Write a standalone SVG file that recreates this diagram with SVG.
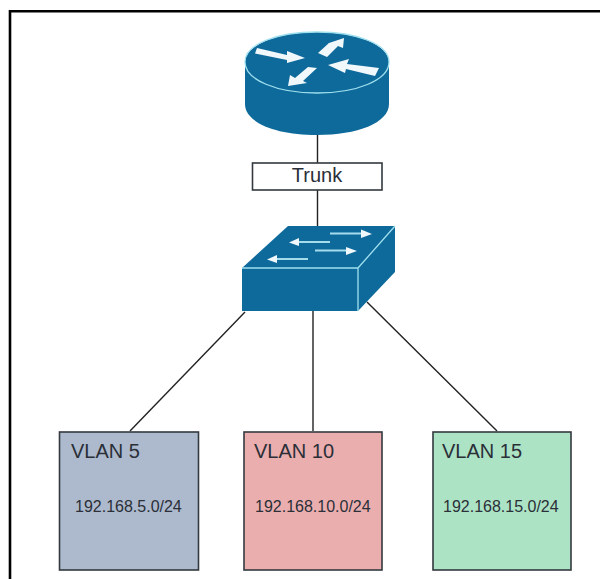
<svg xmlns="http://www.w3.org/2000/svg" width="600" height="579" viewBox="0 0 600 579">
<style>
.f{fill:#0f6a9c}.e{fill:none;stroke:#9fe0ee;stroke-width:1.3}.w{fill:#f1f8fb}
.b{stroke:#a5dcec;stroke-width:2.2;fill:none}
.c{stroke:#222;stroke-width:1.4;fill:none}
.n{stroke:#33393e;stroke-width:1.6}
text{font-family:"Liberation Sans",Arial,sans-serif;fill:#2a2f38}
.t{font-size:20px}.s{font-size:16px}
</style>
<rect x="0" y="0" width="600" height="579" fill="#fff"/>
<path d="M10 579V11.200H600" fill="none" stroke="#000" stroke-width="2.600"/>
<g id="connectors">
<line class="c" x1="317.500" y1="134" x2="317.500" y2="163"/>
<line class="c" x1="317.500" y1="190" x2="317.500" y2="226"/>
<line class="c" x1="245" y1="312" x2="130" y2="431"/>
<line class="c" x1="313" y1="311" x2="313" y2="431"/>
<line class="c" x1="367" y1="302" x2="497" y2="431"/>
</g>
<g id="router">
<path class="f" d="M245 62V104C245 123 277 135 317 135S389 123 389 104V62Z"/>
<ellipse class="f" cx="317" cy="62" rx="72" ry="30"/>
<path class="e" d="M245 62C245 44 277 32 317 32S389 44 389 62C389 80 357 93 317 93S245 80 245 62Z"/>
<path class="w" d="M257 48L287 55L287 51L305 58L287 63L287 60L255 53.500ZM344 38L343 48L338 46L327 57L318 53L329 43L326 44ZM288 86L290 75L295 78L308 67L317 68L303 81L307 83ZM328 65L349 59L347 64L379 68L375 76L346 69L345 73Z"/>
</g>
<g id="trunk">
<rect class="n" x="252.500" y="163" width="129.500" height="27" fill="#fff"/>
<text class="t" x="317" y="182" text-anchor="middle">Trunk</text>
</g>
<g id="switch">
<path class="f" d="M242 268L288 226H395V272L358 311H242Z"/>
<path class="e" d="M242 268H358V311M358 268L395 226"/>
<path class="b" d="M330 233.500H362M330 242H298M315 250.500H347M308 259H276"/>
<path class="w" d="M361 229.500L372 234L361 238ZM299 238L289 242.500L299 246ZM346 247L357 251L346 255ZM277 255L267 259.500L277 263Z"/>
</g>
<g id="vlan5">
<rect class="n" x="59.500" y="432" width="139" height="138" fill="#adb9cd"/>
<text class="t" x="71" y="458">VLAN 5</text>
<text class="s" x="75" y="512">192.168.5.0/24</text>
</g>
<g id="vlan10">
<rect class="n" x="244" y="432" width="138" height="138" fill="#ebaeae"/>
<text class="t" x="254" y="458">VLAN 10</text>
<text class="s" x="255" y="512">192.168.10.0/24</text>
</g>
<g id="vlan15">
<rect class="n" x="433" y="432" width="138" height="138" fill="#ade3c5"/>
<text class="t" x="442" y="458">VLAN 15</text>
<text class="s" x="443" y="512">192.168.15.0/24</text>
</g>
</svg>
